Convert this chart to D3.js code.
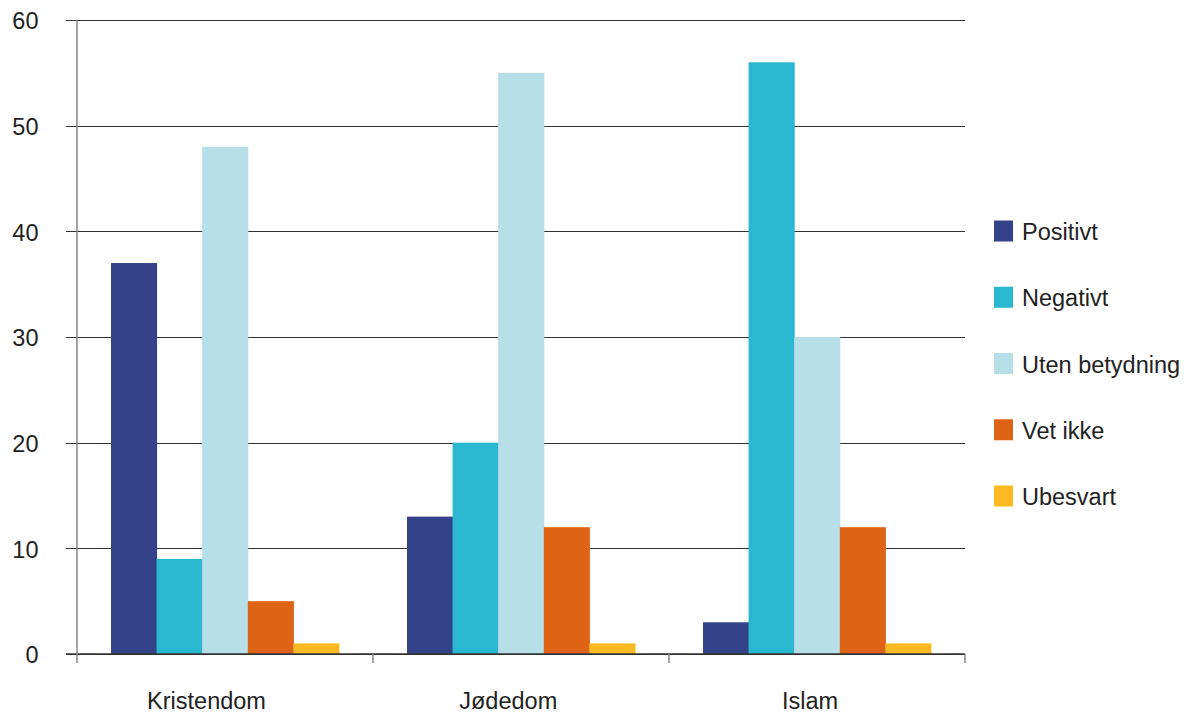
<!DOCTYPE html>
<html><head><meta charset="utf-8">
<script src="https://cdn.jsdelivr.net/npm/d3@7"></script>
<style>body{margin:0;background:#fff}svg{display:block;font-family:"Liberation Sans",Arial,sans-serif}</style>
</head><body><svg id="c" width="1184" height="715"></svg>
<script>
const categories = ["Kristendom", "Jødedom", "Islam"];
const seriesNames = ["Positivt", "Negativt", "Uten betydning", "Vet ikke", "Ubesvart"];
const positivt = [37, 13, 3];
const negativt = [9, 20, 56];
const utenBetydning = [48, 55, 30];
const vetIkke = [5, 12, 12];
const ubesvart = [1, 1, 1];
const yTicks = [0, 10, 20, 30, 40, 50, 60];
const colors = ["#344389", "#2ab8d0", "#b6dfe8", "#df6314", "#fdb91f"];

(function () {
const seriesValues = [positivt, negativt, utenBetydning, vetIkke, ubesvart];
const svg = d3.select("#c");
const mLeft = 77, mRight = 965, mTop = 20, mBottom = 654;
const fs = 23.5;

const x0 = d3.scaleBand().domain(categories).range([mLeft, mRight]).paddingInner(0).paddingOuter(0);
const x1 = d3.scaleBand().domain(seriesNames).range([34, x0.bandwidth() - 34]).padding(0);
const y = d3.scaleLinear().domain([0, 60]).range([mBottom, mTop]);
const xLabel = d3.scalePoint().domain(categories).range([206.5, 810]);

svg.append("g").selectAll("line").data(yTicks).join("line")
  .attr("x1", 66).attr("x2", mRight)
  .attr("y1", d => Math.round(y(d)) + 0.5).attr("y2", d => Math.round(y(d)) + 0.5)
  .attr("stroke", "#333").attr("stroke-width", 1);

svg.append("g").selectAll("text").data(yTicks).join("text")
  .attr("x", 38.5).attr("y", d => y(d) + 1).attr("dy", "0.35em")
  .attr("text-anchor", "end").attr("font-size", fs).attr("fill", "#222")
  .text(d => d);

const groups = svg.append("g").selectAll("g").data(categories).join("g")
  .attr("transform", c => `translate(${x0(c)},0)`);
groups.selectAll("rect").data((c, i) => seriesNames.map((s, j) => ({s, v: seriesValues[j][i], j})))
  .join("rect")
  .attr("x", d => x1(d.s)).attr("width", x1.bandwidth() + 0.5)
  .attr("y", d => y(d.v)).attr("height", d => y(0) - y(d.v))
  .attr("fill", d => colors[d.j]);

svg.append("line").attr("x1", 66).attr("x2", mRight).attr("y1", y(0)).attr("y2", y(0))
  .attr("stroke", "#333").attr("stroke-width", 1.5);

svg.append("line").attr("x1", mLeft).attr("x2", mLeft).attr("y1", mTop).attr("y2", mBottom + 9)
  .attr("stroke", "#888").attr("stroke-width", 1.5);

const bounds = categories.map(c => x0(c) + x0.bandwidth());
svg.append("g").selectAll("line").data(bounds).join("line")
  .attr("x1", d => d).attr("x2", d => d).attr("y1", mBottom).attr("y2", mBottom + 9)
  .attr("stroke", "#888").attr("stroke-width", 1.5);

svg.append("g").selectAll("text").data(categories).join("text")
  .attr("x", c => xLabel(c)).attr("y", 709)
  .attr("text-anchor", "middle").attr("font-size", fs).attr("fill", "#222")
  .text(c => c);

const lg = svg.append("g").selectAll("g").data(seriesNames).join("g")
  .attr("transform", (d, i) => `translate(994,${231 + i * 66.25})`);
lg.append("rect").attr("x", 0).attr("y", -10.5).attr("width", 19).attr("height", 21)
  .attr("fill", (d, i) => colors[i]);
lg.append("text").attr("x", 28).attr("y", 1).attr("dy", "0.35em")
  .attr("font-size", fs).attr("fill", "#222").text(d => d);
})();
</script></body></html>
